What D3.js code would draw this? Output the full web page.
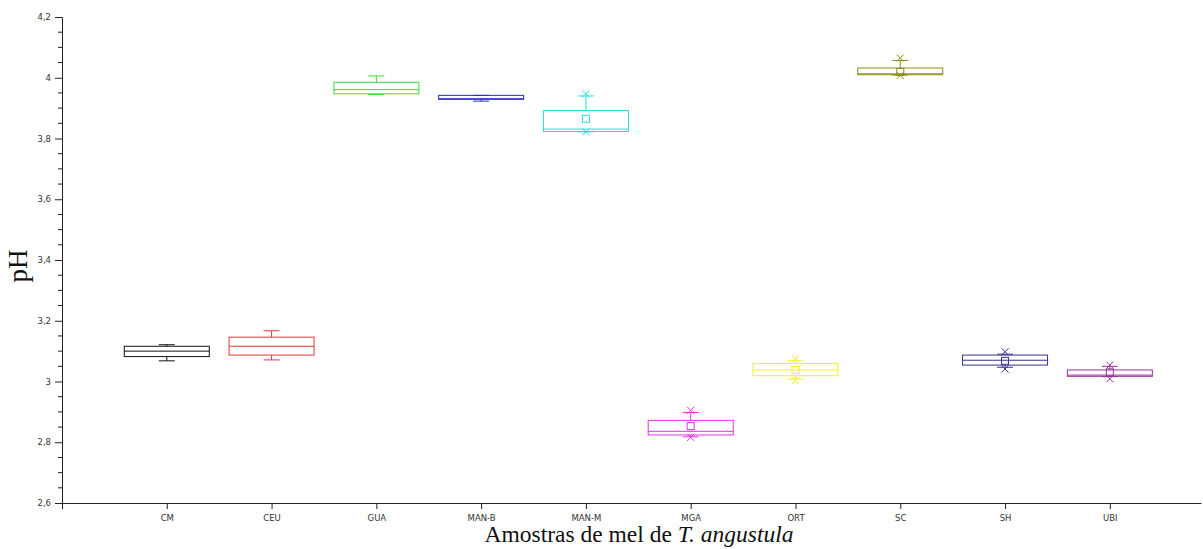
<!DOCTYPE html>
<html>
<head>
<meta charset="utf-8">
<script src="https://cdn.jsdelivr.net/npm/d3@7"></script>
<style>
  html, body { margin: 0; padding: 0; background: #fff; }
  svg { display: block; }
  .tick text { font-family: Tahoma, "DejaVu Sans", sans-serif; font-size: 8.5px; fill: #333; }
</style>
</head>
<body>
<svg id="chart" width="1203" height="549"></svg>
<script>
// pH of stingless-bee honey samples (Tetragonisca angustula)
const categories = ["CM", "CEU", "GUA", "MAN-B", "MAN-M", "MGA", "ORT", "SC", "SH", "UBI"];
const whiskerLow  = [3.068, 3.071, 3.945, 3.923, 3.822, 2.818, 3.008, 4.009, 3.047, 3.016];
const quartile1   = [3.082, 3.087, 3.947, 3.929, 3.823, 2.824, 3.019, 4.010, 3.054, 3.017];
const medians     = [3.100, 3.116, 3.961, 3.931, 3.831, 2.836, 3.038, 4.013, 3.070, 3.021];
const quartile3   = [3.116, 3.146, 3.985, 3.942, 3.892, 2.872, 3.059, 4.032, 3.087, 3.038];
const whiskerHigh = [3.121, 3.167, 4.006, 3.942, 3.940, 2.898, 3.068, 4.057, 3.090, 3.050];
const means       = [null, null, null, null, 3.865, 2.853, 3.038, 4.019, 3.068, 3.030];
const pctLow      = [null, null, null, null, 3.822, 2.816, 3.003, 4.008, 3.041, 3.009];
const pctHigh     = [null, null, null, null, 3.947, 2.905, 3.075, 4.065, 3.098, 3.054];
const colors = ["#111111", "#e0393a", "#3ddc3d", "#2a2ad0", "#22dddd",
                "#ee2cee", "#f0f020", "#8c8c14", "#34348a", "#993399"];
const yTicks = [2.6, 2.8, 3.0, 3.2, 3.4, 3.6, 3.8, 4.0, 4.2];

const svg = d3.select("#chart");
const axisColor = "#222";

const x = d3.scaleLinear().domain([0, 10.87]).range([62, 1201]);
const y = d3.scaleLinear().domain([2.6, 4.2]).range([503, 17]);
const fmt = v => String(+v.toFixed(2)).replace(".", ",");

// Y axis: major ticks every 0.2, minor every 0.05
const yAxis = svg.append("g").attr("transform", "translate(62,0)")
  .call(d3.axisLeft(y).tickValues(yTicks).tickFormat(fmt).tickSize(7).tickPadding(4));
yAxis.select(".domain").attr("stroke", axisColor);
yAxis.selectAll(".tick line").attr("stroke", axisColor);

const minor = d3.range(2.65, 4.2, 0.05).filter(v => Math.abs(v * 5 - Math.round(v * 5)) > 1e-6);
svg.append("g").selectAll("line").data(minor).join("line")
  .attr("x1", 58).attr("x2", 62)
  .attr("y1", d => y(d)).attr("y2", d => y(d))
  .attr("stroke", axisColor);

// X axis with one tick per sample
const xAxis = svg.append("g").attr("transform", "translate(0,503)")
  .call(d3.axisBottom(x).tickValues(d3.range(0, 11))
    .tickFormat(i => i === 0 ? "" : categories[i - 1]).tickSize(6).tickPadding(6).tickSizeOuter(0));
xAxis.select(".domain").attr("stroke", axisColor);
xAxis.selectAll(".tick line").attr("stroke", axisColor);

// Box plots
const boxW = 85, capW = 16, mk = 3.5;
const boxes = svg.append("g").attr("fill", "none").attr("stroke-width", 1);
categories.forEach((c, i) => {
  const cx = x(i + 1);
  const g = boxes.append("g").attr("stroke", colors[i]);
  // whiskers
  g.append("line").attr("x1", cx).attr("x2", cx).attr("y1", y(quartile3[i])).attr("y2", y(whiskerHigh[i]));
  g.append("line").attr("x1", cx).attr("x2", cx).attr("y1", y(quartile1[i])).attr("y2", y(whiskerLow[i]));
  [whiskerLow[i], whiskerHigh[i]].forEach(v => {
    g.append("line").attr("x1", cx - capW / 2).attr("x2", cx + capW / 2)
      .attr("y1", y(v)).attr("y2", y(v));
  });
  // box and median
  g.append("rect").attr("x", cx - boxW / 2).attr("width", boxW)
    .attr("y", y(quartile3[i])).attr("height", Math.max(1, y(quartile1[i]) - y(quartile3[i])));
  g.append("line").attr("x1", cx - boxW / 2).attr("x2", cx + boxW / 2)
    .attr("y1", y(medians[i])).attr("y2", y(medians[i]));
  // mean
  if (means[i] != null) {
    g.append("rect").attr("x", cx - 3.5).attr("y", y(means[i]) - 3.5).attr("width", 7).attr("height", 7);
  }
  // extreme-percentile crosses
  [pctLow[i], pctHigh[i]].forEach(v => {
    if (v == null) return;
    const py = y(v);
    g.append("path").attr("d", `M${cx - mk},${py - mk}L${cx + mk},${py + mk}M${cx - mk},${py + mk}L${cx + mk},${py - mk}`);
  });
});

// Axis titles
svg.append("text")
  .attr("x", 639).attr("y", 542).attr("text-anchor", "middle")
  .attr("font-family", "'Liberation Serif', 'Times New Roman', serif").attr("font-size", 23.5).attr("fill", "#111")
  .call(t => {
    t.append("tspan").text("Amostras de mel de ");
    t.append("tspan").attr("font-style", "italic").text("T. angustula");
  });

svg.append("text")
  .attr("transform", "translate(27,266) rotate(-90)").attr("text-anchor", "middle")
  .attr("font-family", "'Liberation Serif', 'Times New Roman', serif").attr("font-size", 27).attr("fill", "#111")
  .text("pH");
</script>
</body>
</html>
